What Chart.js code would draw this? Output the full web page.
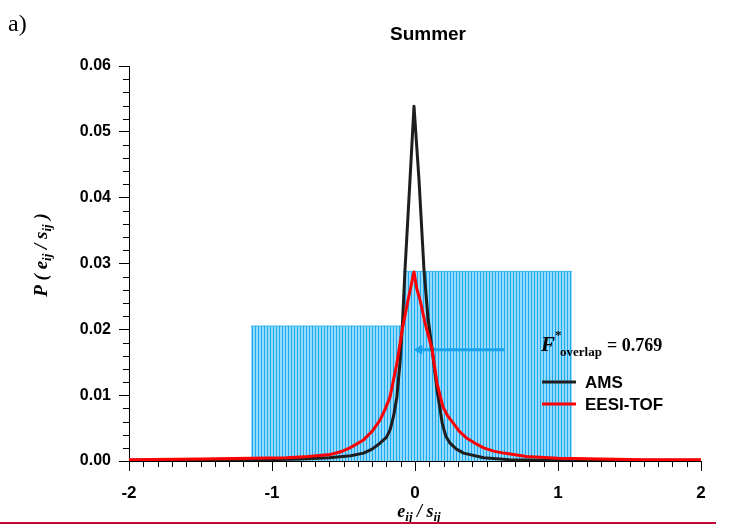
<!DOCTYPE html>
<html>
<head>
<meta charset="utf-8">
<script src="https://cdn.jsdelivr.net/npm/chart.js@4.4.0/dist/chart.umd.min.js"></script>
<style>
  html, body { margin: 0; padding: 0; background: #fff; }
  #wrap { width: 744px; height: 529px; }
</style>
</head>
<body>
<div id="wrap"><canvas id="chart" width="744" height="529"></canvas></div>
<script>
// AMS residual distribution
const amsX = [-2, -1.5, -1, -0.8, -0.6, -0.45, -0.36, -0.3, -0.245, -0.2, -0.175, -0.15, -0.127, -0.105, -0.09, -0.07, -0.035, -0.007, 0.028, 0.063, 0.09, 0.12, 0.154, 0.19, 0.215, 0.245, 0.29, 0.34, 0.48, 0.66, 0.9, 1.2, 1.6, 2];
const amsY = [0.0001, 0.0001, 0.0002, 0.0003, 0.0005, 0.0008, 0.0012, 0.0018, 0.0027, 0.0036, 0.0047, 0.0068, 0.0097, 0.0149, 0.0199, 0.029, 0.0427, 0.0539, 0.0427, 0.029, 0.0219, 0.0169, 0.0108, 0.0058, 0.0038, 0.0027, 0.0018, 0.0012, 0.0005, 0.0002, 0.0001, 0.0001, 0.0001, 0.0001];

// EESI-TOF residual distribution
const eesiX = [-2, -1.5, -1.15, -0.9, -0.75, -0.59, -0.52, -0.455, -0.36, -0.3, -0.245, -0.21, -0.175, -0.126, -0.09, -0.05, -0.007, 0.012, 0.035, 0.07, 0.12, 0.154, 0.196, 0.23, 0.266, 0.31, 0.36, 0.42, 0.48, 0.55, 0.62, 0.78, 1.0, 1.3, 1.6, 2];
const eesiY = [0.0002, 0.0003, 0.0004, 0.0005, 0.0007, 0.001, 0.0014, 0.002, 0.0032, 0.0045, 0.0062, 0.0078, 0.0097, 0.0149, 0.0199, 0.0243, 0.0287, 0.0262, 0.0245, 0.021, 0.0169, 0.0118, 0.0082, 0.0068, 0.0058, 0.0045, 0.0035, 0.0027, 0.002, 0.0015, 0.0012, 0.0007, 0.0004, 0.0003, 0.0002, 0.0002];

// shaded bins
const binEdges = [-1.147, -0.084, 1.098];
const binHeights = [0.0205, 0.0288];

// overlap arrow
const arrowX = [0.63, 0.03];
const arrowY = [0.0169, 0.0169];
const overlapValue = '0.769';

const xTickValues = [-2, -1, 0, 1, 2];
const xTickLabels = ['-2', '-1', '0', '1', '2'];
const yTickValues = [0, 0.01, 0.02, 0.03, 0.04, 0.05, 0.06];
const yTickLabels = ['0.00', '0.01', '0.02', '0.03', '0.04', '0.05', '0.06'];

const seriesNames = ['AMS', 'EESI-TOF'];
const seriesColors = ['#1e1e1e', '#ff0000'];

const SANS = '"Liberation Sans", Arial, sans-serif';
const SERIF = '"Liberation Serif", "Times New Roman", serif';

// vertical hatch fill
function makeHatch() {
    const c = document.createElement('canvas');
    c.width = 3; c.height = 4;
    const g = c.getContext('2d');
    g.fillStyle = '#98dafc';
    g.fillRect(0, 0, 3, 4);
    g.fillStyle = '#1aaaf2';
    g.fillRect(0, 0, 1, 4);
    return g.createPattern(c, 'repeat');
}
const hatch = makeHatch();

function pts(xs, ys) {
    return xs.map((x, i) => ({ x: x, y: ys[i] }));
}

function binData(i) {
    return [{ x: binEdges[i], y: binHeights[i] }, { x: binEdges[i + 1], y: binHeights[i] }];
}

// draw a sequence of text runs (for sub/superscripts)
function drawRuns(ctx, runs, x, y, align) {
    let total = 0;
    runs.forEach(r => { ctx.font = r.font; total += ctx.measureText(r.t).width; });
    let cx = align === 'center' ? x - total / 2 : x;
    ctx.textAlign = 'left';
    ctx.textBaseline = 'alphabetic';
    runs.forEach(r => {
        ctx.font = r.font;
        ctx.fillText(r.t, cx, y + (r.dy || 0));
        cx += ctx.measureText(r.t).width;
    });
}

const extras = {
    id: 'extras',
    afterDraw(chart) {
        const ctx = chart.ctx;
        const xs = chart.scales.x, ys = chart.scales.y;
        const area = chart.chartArea;
        ctx.save();
        ctx.strokeStyle = '#000';
        ctx.lineWidth = 1;

        // minor ticks
        ctx.beginPath();
        for (let i = -20; i <= 20; i++) {
            if (i % 10 === 0) continue;
            const px = Math.round(xs.getPixelForValue(i / 10)) + 0.5;
            ctx.moveTo(px, area.bottom);
            ctx.lineTo(px, area.bottom + 6);
        }
        for (let i = 0; i <= 30; i++) {
            if (i % 5 === 0) continue;
            const py = Math.round(ys.getPixelForValue(i * 0.002)) + 0.5;
            ctx.moveTo(area.left - 6, py);
            ctx.lineTo(area.left, py);
        }
        ctx.stroke();

        ctx.fillStyle = '#000';
        // panel letter
        ctx.font = '24px ' + SERIF;
        ctx.textAlign = 'left';
        ctx.textBaseline = 'alphabetic';
        ctx.fillText('a)', 8, 31);

        // title
        ctx.font = 'bold 19px ' + SANS;
        ctx.textAlign = 'center';
        ctx.fillText('Summer', 428, 40);

        // x axis title
        const bi = 'italic bold 18px ' + SERIF;
        const bis = 'italic bold 13px ' + SERIF;
        drawRuns(ctx, [
            { t: 'e', font: bi }, { t: 'ij', font: bis, dy: 4 },
            { t: ' / ', font: bi },
            { t: 's', font: bi }, { t: 'ij', font: bis, dy: 4 }
        ], 419, 517, 'center');

        // y axis title
        ctx.save();
        ctx.translate(47, 255);
        ctx.rotate(-Math.PI / 2);
        const yb = 'italic bold 19px ' + SERIF;
        const ybs = 'italic bold 13px ' + SERIF;
        drawRuns(ctx, [
            { t: 'P ( ', font: yb },
            { t: 'e', font: yb }, { t: 'ij', font: ybs, dy: 4 },
            { t: ' / ', font: yb },
            { t: 's', font: yb }, { t: 'ij', font: ybs, dy: 4 },
            { t: ' )', font: yb }
        ], 0, 0, 'center');
        ctx.restore();

        // overlap annotation
        drawRuns(ctx, [
            { t: 'F', font: 'italic bold 21px ' + SERIF },
            { t: '*', font: 'bold 13px ' + SERIF, dy: -12 }
        ], 541, 351, 'left');
        drawRuns(ctx, [
            { t: 'overlap', font: 'bold 13px ' + SERIF }
        ], 560, 356, 'left');
        drawRuns(ctx, [
            { t: '= ' + overlapValue, font: 'bold 18px ' + SERIF }
        ], 607, 351, 'left');

        // legend
        ctx.lineWidth = 3;
        seriesNames.forEach((name, i) => {
            const y = 382 + i * 22;
            ctx.strokeStyle = seriesColors[i];
            ctx.beginPath();
            ctx.moveTo(542, y);
            ctx.lineTo(576, y);
            ctx.stroke();
            ctx.fillStyle = '#000';
            ctx.font = 'bold 17px ' + SANS;
            ctx.textAlign = 'left';
            ctx.textBaseline = 'middle';
            ctx.fillText(name, 585, y + 1);
        });

        // rule at the bottom of the page
        ctx.strokeStyle = '#c00a35';
        ctx.lineWidth = 2;
        ctx.beginPath();
        ctx.moveTo(0, 523);
        ctx.lineTo(716, 523);
        ctx.stroke();
        ctx.restore();
    }
};

new Chart(document.getElementById('chart'), {
    type: 'scatter',
    data: {
        datasets: [
            {
                label: seriesNames[1],
                data: pts(eesiX, eesiY),
                showLine: true,
                borderColor: seriesColors[1],
                borderWidth: 3,
                borderJoinStyle: 'round',
                pointRadius: 0,
                tension: 0,
                fill: false,
            },
            {
                label: seriesNames[0],
                data: pts(amsX, amsY),
                showLine: true,
                borderColor: seriesColors[0],
                borderWidth: 3,
                borderJoinStyle: 'round',
                pointRadius: 0,
                tension: 0,
                fill: false,
            },
            {
                label: 'overlap',
                data: pts(arrowX, arrowY),
                showLine: true,
                borderColor: '#1ba3ea',
                backgroundColor: '#1ba3ea',
                borderWidth: 3,
                pointStyle: 'triangle',
                pointRadius: [0, 5],
                pointRotation: 270,
                pointBorderWidth: 1,
                fill: false,
            },
            {
                label: 'bin2',
                data: binData(1),
                showLine: true,
                borderColor: '#33b4f0',
                borderWidth: 1,
                backgroundColor: hatch,
                pointRadius: 0,
                fill: 'origin',
            },
            {
                label: 'bin1',
                data: binData(0),
                showLine: true,
                borderColor: '#33b4f0',
                borderWidth: 1,
                backgroundColor: hatch,
                pointRadius: 0,
                fill: 'origin',
            }
        ]
    },
    options: {
        responsive: false,
        animation: false,
        devicePixelRatio: 1,
        layout: { padding: { top: 66, right: 43, left: 0, bottom: 0 } },
        plugins: {
            legend: { display: false },
            tooltip: { enabled: false },
            title: { display: false },
        },
        scales: {
            x: {
                type: 'linear',
                min: -2,
                max: 2,
                afterFit: s => { s.height = 68; },
                afterBuildTicks: s => { s.ticks = xTickValues.map(v => ({ value: v })); },
                ticks: {
                    callback: v => xTickLabels[xTickValues.indexOf(v)],
                    font: { family: SANS, weight: 'bold', size: 17 },
                    color: '#000',
                    padding: 12,
                    maxRotation: 0,
                    autoSkip: false,
                },
                grid: { drawOnChartArea: false, tickLength: 10, tickColor: '#000', color: '#000' },
                border: { color: '#000', width: 1 },
            },
            y: {
                type: 'linear',
                min: 0,
                max: 0.06,
                afterFit: s => { s.width = 129; },
                afterBuildTicks: s => { s.ticks = yTickValues.map(v => ({ value: v })); },
                ticks: {
                    callback: (v, i) => yTickLabels[i],
                    font: { family: SANS, weight: 'bold', size: 16 },
                    color: '#000',
                    padding: 8,
                    autoSkip: false,
                },
                grid: { drawOnChartArea: false, tickLength: 10, tickColor: '#000', color: '#000' },
                border: { color: '#000', width: 1 },
            }
        }
    },
    plugins: [extras]
});
</script>
</body>
</html>
